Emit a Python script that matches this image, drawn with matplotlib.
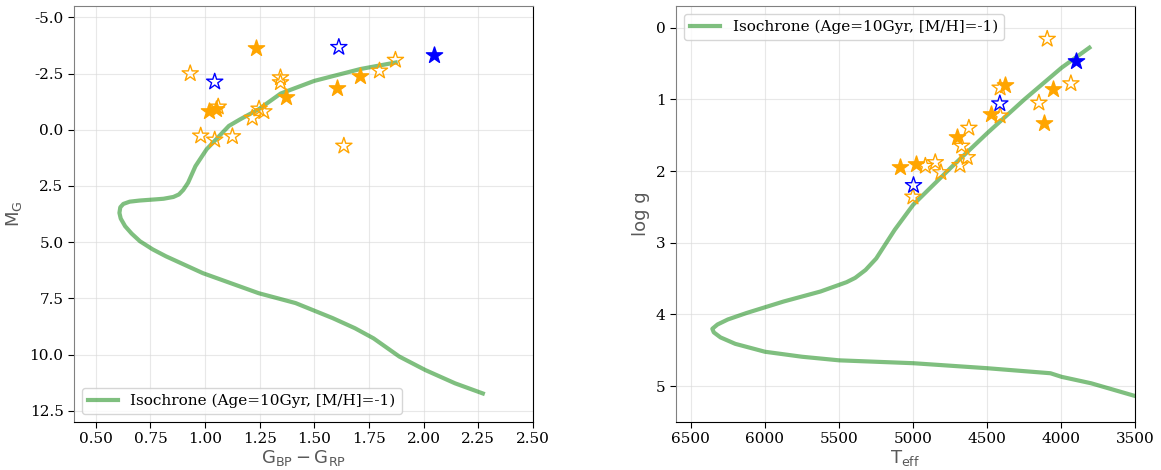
import numpy as np
import matplotlib
matplotlib.use("Agg")
import matplotlib.pyplot as plt

plt.rcParams["font.family"] = "DejaVu Serif"
plt.rcParams["mathtext.fontset"] = "dejavusans"
plt.rcParams["axes.unicode_minus"] = False

#### isochrone (Age=10Gyr, [M/H]=-1)
iso_bprp = [1.872, 1.711, 1.499, 1.346, 1.245, 1.160, 1.109, 1.058, 1.007, 0.956,
            0.922, 0.900, 0.880, 0.855, 0.810, 0.770, 0.700, 0.655, 0.626, 0.612, 0.608,
            0.614, 0.634, 0.664, 0.702, 0.760,
            0.821, 0.990, 1.245, 1.414, 1.584, 1.686, 1.771, 1.889, 2.008, 2.144, 2.271]
iso_mg = [-2.99, -2.70, -2.17, -1.61, -0.91, -0.46, -0.17, 0.35, 0.87, 1.62,
          2.36, 2.68, 2.88, 2.99, 3.07, 3.10, 3.15, 3.20, 3.30, 3.45, 3.70,
          3.95, 4.29, 4.62, 4.96, 5.32,
          5.63, 6.38, 7.27, 7.71, 8.38, 8.83, 9.28, 10.09, 10.69, 11.28, 11.73]

iso_teff = [3808, 3996, 4246, 4497, 4747, 4998, 5123, 5248, 5320, 5390, 5448,
            5624, 5874, 6124, 6250, 6320, 6355, 6345, 6300, 6200, 6000, 5749, 5498,
            4998, 4497, 4071, 3996, 3796, 3495]
iso_logg = [0.28, 0.56, 1.00, 1.47, 1.96, 2.47, 2.82, 3.22, 3.38, 3.49, 3.55,
            3.68, 3.82, 3.98, 4.07, 4.14, 4.20, 4.25, 4.32, 4.41, 4.52, 4.59, 4.64,
            4.68, 4.75, 4.82, 4.87, 4.96, 5.14]

#### CMD stars
cmd_fill_x = [1.231, 1.018, 1.050, 1.368, 1.604, 1.708]
cmd_fill_y = [-3.62, -0.83, -0.90, -1.45, -1.84, -2.37]
cmd_open_x = [0.932, 1.060, 1.345, 1.345, 1.247, 1.269, 1.216, 0.980, 1.044, 1.125, 1.635, 1.798, 1.871]
cmd_open_y = [-2.50, -1.02, -2.32, -2.10, -0.93, -0.81, -0.52, 0.27, 0.45, 0.30, 0.72, -2.62, -3.10]
cmd_bfill_x = [2.047]
cmd_bfill_y = [-3.34]
cmd_bopen_x = [1.612, 1.044]
cmd_bopen_y = [-3.67, -2.13]

#### Kiel diagram stars
kiel_fill_t = [5084, 4982, 4704, 4473, 4378, 4051, 4116]
kiel_fill_g = [1.94, 1.90, 1.52, 1.21, 0.80, 0.86, 1.33]
kiel_open_t = [4093, 3933, 4149, 4411, 4411, 4622, 4671, 4633, 4682, 4849, 4811, 4916, 5000]
kiel_open_g = [0.16, 0.78, 1.05, 0.84, 1.23, 1.40, 1.65, 1.81, 1.92, 1.88, 2.02, 1.93, 2.36]
kiel_bfill_t = [3896]
kiel_bfill_g = [0.47]
kiel_bopen_t = [4413, 4996]
kiel_bopen_g = [1.06, 2.20]

iso_label = "Isochrone (Age=10Gyr, [M/H]=-1)"
ms = 150


def style(ax):
    ax.grid(True, color="0.85", alpha=0.6, lw=0.8)
    ax.set_axisbelow(True)
    for s in ["left", "top"]:
        ax.spines[s].set_color("0.5")
    for s in ["right", "bottom"]:
        ax.spines[s].set_color("black")
    ax.tick_params(labelsize=11, length=4)


fig = plt.figure(figsize=(11.61, 4.70), dpi=100)
ax1 = fig.add_axes([0.0637, 0.1021, 0.3953, 0.885])
ax2 = fig.add_axes([0.5823, 0.1021, 0.3953, 0.885])

## 1. CMD
ax1.plot(iso_bprp, iso_mg, color="green", alpha=0.5, lw=3, label=iso_label, zorder=2)
ax1.scatter(cmd_fill_x, cmd_fill_y, marker="*", s=ms, color="orange", zorder=3)
ax1.scatter(cmd_open_x, cmd_open_y, marker="*", s=ms, facecolors="none", edgecolors="orange", zorder=3)
ax1.scatter(cmd_bfill_x, cmd_bfill_y, marker="*", s=ms, color="blue", zorder=3)
ax1.scatter(cmd_bopen_x, cmd_bopen_y, marker="*", s=ms, facecolors="none", edgecolors="blue", zorder=3)
ax1.set_xlim(0.4, 2.5)
ax1.set_ylim(13.0, -5.5)
ax1.set_xticks(np.arange(0.5, 2.51, 0.25))
ax1.set_yticks(np.arange(-5, 12.6, 2.5))
ax1.set_xlabel(r"$\mathrm{G_{BP} - G_{RP}}$", fontsize=13, color="0.35", labelpad=1)
ax1.set_ylabel(r"$\mathrm{M_G}$", fontsize=13, color="0.35")
ax1.legend(loc="lower left", fontsize=11)
style(ax1)

## 2. Kiel
ax2.plot(iso_teff, iso_logg, color="green", alpha=0.5, lw=3, label=iso_label, zorder=2)
ax2.scatter(kiel_fill_t, kiel_fill_g, marker="*", s=ms, color="orange", zorder=3)
ax2.scatter(kiel_open_t, kiel_open_g, marker="*", s=ms, facecolors="none", edgecolors="orange", zorder=3)
ax2.scatter(kiel_bfill_t, kiel_bfill_g, marker="*", s=ms, color="blue", zorder=3)
ax2.scatter(kiel_bopen_t, kiel_bopen_g, marker="*", s=ms, facecolors="none", edgecolors="blue", zorder=3)
ax2.set_xlim(6600, 3500)
ax2.set_ylim(5.5, -0.3)
ax2.set_xticks(np.arange(6500, 3499, -500))
ax2.set_yticks(range(0, 6))
ax2.set_xlabel(r"$\mathrm{T_{eff}}$", fontsize=13, color="0.35", labelpad=1)
ax2.set_ylabel("log g", fontsize=13, color="0.35", family="DejaVu Sans")
ax2.legend(loc="upper left", fontsize=11)
style(ax2)

fig.savefig("out.png", dpi=100)
